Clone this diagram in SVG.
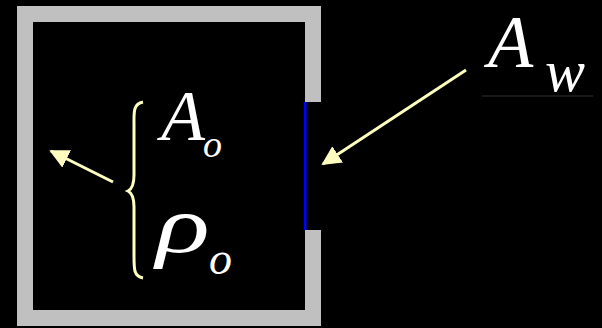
<svg xmlns="http://www.w3.org/2000/svg" width="602" height="328" viewBox="0 0 602 328">
<style>
.wall{fill:#c0c0c0}
.con{stroke:#ffffc0;stroke-width:3;fill:none}
.t{font-family:"Liberation Serif","Times New Roman",serif;font-style:italic;fill:#ffffff}
</style>
<defs>
<marker id="ah2" viewBox="0 0 10 10" refX="9" refY="5" markerWidth="6.5" markerHeight="6.5" orient="auto">
<path d="M0,0 L10,5 L0,10 z" fill="#ffffc0"/>
</marker>
</defs>
<rect width="602" height="328" fill="#000"/>
<g id="room">
<path class="wall" d="M17,6 H321 V102 H305 V22 H33 V310 H305 V230 H321 V326 H17 Z"/>
<rect id="window" x="304" y="102" width="2.5" height="128" fill="#0000ff"/>
</g>
<g id="connectors">
<line class="con" x1="113" y1="182" x2="51" y2="151" marker-end="url(#ah2)"/>
<line class="con" x1="466" y1="70" x2="323" y2="164" marker-end="url(#ah2)"/>
<path class="con" stroke-width="2" d="M143,102 C133,104 134,112 134,125 V175 C134,185 132,189 128,191 C132,193 134,197 134,207 V256 C134,270 134,276 143,278"/>
</g>
<g id="label-Ao">
<text class="t" x="161" y="140" font-size="72">A<tspan x="203" y="157" font-size="38">o</tspan></text>
</g>
<g id="label-rho">
<text class="t" transform="translate(156,252) scale(1.4,1)" font-size="80">ρ</text>
<text class="t" x="209" y="274" font-size="46">o</text>
</g>
<g id="label-Aw">
<text class="t" x="488" y="67" font-size="74">A<tspan x="545" y="91" font-size="60">w</tspan></text>
<line x1="482" y1="96" x2="593" y2="96" stroke="#333" stroke-width="1"/>
</g>
</svg>
